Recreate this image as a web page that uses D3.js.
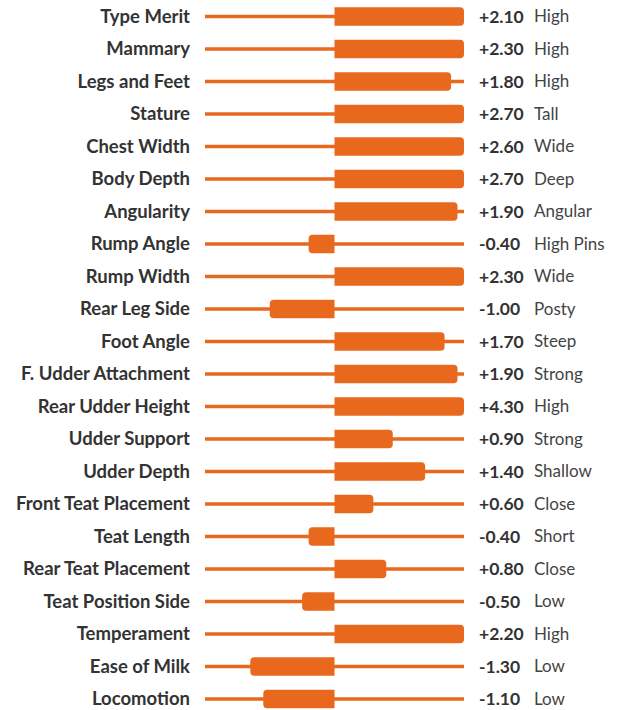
<!DOCTYPE html>
<html>
<head>
<meta charset="utf-8">
<script src="https://cdn.jsdelivr.net/npm/d3@7"></script>
<style>
  body { margin: 0; background: #fff; }
  text { font-family: Lato, "Open Sans", sans-serif; }
</style>
</head>
<body>
<div id="chart"></div>
<script>
var traits = ["Type Merit", "Mammary", "Legs and Feet", "Stature", "Chest Width", "Body Depth",
  "Angularity", "Rump Angle", "Rump Width", "Rear Leg Side", "Foot Angle", "F. Udder Attachment",
  "Rear Udder Height", "Udder Support", "Udder Depth", "Front Teat Placement", "Teat Length",
  "Rear Teat Placement", "Teat Position Side", "Temperament", "Ease of Milk", "Locomotion"];
var values = [2.10, 2.30, 1.80, 2.70, 2.60, 2.70, 1.90, -0.40, 2.30, -1.00, 1.70, 1.90,
  4.30, 0.90, 1.40, 0.60, -0.40, 0.80, -0.50, 2.20, -1.30, -1.10];
var descriptions = ["High", "High", "High", "Tall", "Wide", "Deep", "Angular", "High Pins", "Wide",
  "Posty", "Steep", "Strong", "High", "Strong", "Shallow", "Close", "Short", "Close", "Low",
  "High", "Low", "Low"];

var w = 622, h = 710;
var orange = "#e8691e";
var svg = d3.select("#chart").append("svg").attr("width", w).attr("height", h);

var x = d3.scaleLinear().domain([-2, 2]).range([205, 464]).clamp(true);
var y = d3.scalePoint().domain(traits).range([16.5, 699]);

var rows = svg.selectAll("g.row").data(traits).enter().append("g")
  .attr("class", "row")
  .attr("transform", function(d) { return "translate(0," + y(d) + ")"; });

// background track
rows.append("line")
  .attr("x1", x(-2)).attr("x2", x(2))
  .attr("stroke", orange).attr("stroke-width", 3.5);

// bar rounded on the outer end only
var bh = 18.5, r = 4;
rows.append("path")
  .attr("fill", orange)
  .attr("d", function(d, i) {
    var x0 = x(0), x1 = x(values[i]), t = -bh / 2, b = bh / 2;
    var s = x1 > x0 ? 1 : -1;
    return "M" + x0 + "," + t +
      "L" + (x1 - s * r) + "," + t +
      "Q" + x1 + "," + t + " " + x1 + "," + (t + r) +
      "L" + x1 + "," + (b - r) +
      "Q" + x1 + "," + b + " " + (x1 - s * r) + "," + b +
      "L" + x0 + "," + b + "Z";
  });

rows.append("text")
  .attr("x", 190).attr("dy", "0.35em")
  .attr("text-anchor", "end")
  .attr("font-size", 18.5).attr("font-weight", 700)
  .attr("fill", "#333")
  .text(function(d) { return d; });

rows.append("text")
  .attr("x", 479).attr("dy", "0.35em")
  .attr("font-size", 17.5).attr("font-weight", 700)
  .attr("fill", "#333")
  .text(function(d, i) { return (values[i] > 0 ? "+" : "") + values[i].toFixed(2); });

rows.append("text")
  .attr("x", 534).attr("dy", "0.35em")
  .attr("font-size", 17).attr("font-weight", 400)
  .attr("fill", "#444")
  .text(function(d, i) { return descriptions[i]; });
</script>
</body>
</html>
